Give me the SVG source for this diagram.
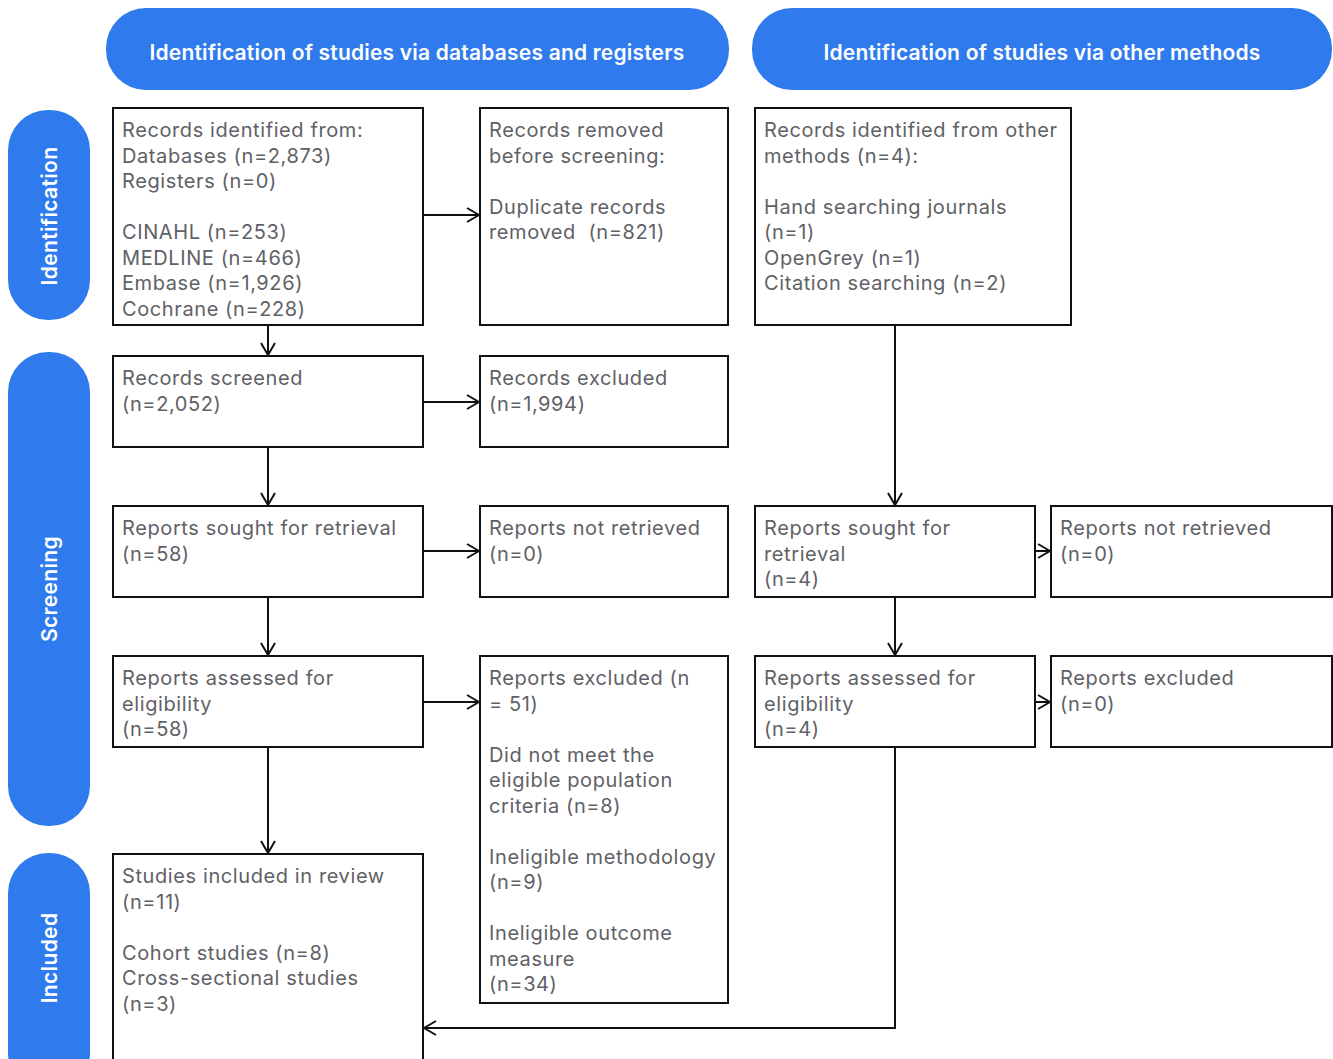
<svg xmlns="http://www.w3.org/2000/svg" width="1333" height="1059" viewBox="0 0 1333 1059">
<defs>
<style>
.hdr{fill:#2f7bee}
.hdrt{fill:#fff;font-family:Inter,"Liberation Sans",sans-serif;font-weight:600;font-size:21px;letter-spacing:0.2px;text-anchor:middle;dominant-baseline:central}
.side{letter-spacing:0.35px}
.box{fill:#fff;stroke:#111;stroke-width:2}
.t{fill:#5f6166;font-family:Inter,"Liberation Sans",sans-serif;font-size:20px;letter-spacing:0.6px}
.c{fill:none;stroke:#111;stroke-width:2}
</style>
<marker id="ah" viewBox="0 0 14 16" refX="13" refY="8" markerWidth="14" markerHeight="16" markerUnits="userSpaceOnUse" orient="auto">
<path d="M1 1 L13 8 L1 15" fill="none" stroke="#111" stroke-width="2"/>
</marker>
</defs>
<g id="header-db"><rect class="hdr" x="106" y="8" width="623" height="82" rx="40"/><text class="hdrt" x="417" y="52">Identification of studies via databases and registers</text></g>
<g id="header-other"><rect class="hdr" x="752" y="8" width="580" height="82" rx="40"/><text class="hdrt" x="1042" y="52">Identification of studies via other methods</text></g>
<g id="side-identification"><rect class="hdr" x="8" y="110" width="82" height="210" rx="40"/><text class="hdrt side" transform="translate(49 216) rotate(-90)">Identification</text></g>
<g id="side-screening"><rect class="hdr" x="8" y="352" width="82" height="474" rx="40"/><text class="hdrt side" transform="translate(49 589) rotate(-90)">Screening</text></g>
<g id="side-included"><rect class="hdr" x="8" y="853" width="82" height="240" rx="40"/><text class="hdrt side" transform="translate(49 958) rotate(-90)">Included</text></g>

<g id="connectors">
<line class="c" x1="268" y1="325" x2="268" y2="355" marker-end="url(#ah)"/>
<line class="c" x1="423" y1="215" x2="479" y2="215" marker-end="url(#ah)"/>
<line class="c" x1="423" y1="402" x2="479" y2="402" marker-end="url(#ah)"/>
<line class="c" x1="268" y1="447" x2="268" y2="505" marker-end="url(#ah)"/>
<line class="c" x1="423" y1="551" x2="479" y2="551" marker-end="url(#ah)"/>
<line class="c" x1="268" y1="597" x2="268" y2="655" marker-end="url(#ah)"/>
<line class="c" x1="423" y1="702" x2="479" y2="702" marker-end="url(#ah)"/>
<line class="c" x1="268" y1="747" x2="268" y2="853" marker-end="url(#ah)"/>
<line class="c" x1="895" y1="325" x2="895" y2="505" marker-end="url(#ah)"/>
<line class="c" x1="1035" y1="551" x2="1050" y2="551" marker-end="url(#ah)"/>
<line class="c" x1="895" y1="597" x2="895" y2="655" marker-end="url(#ah)"/>
<line class="c" x1="1035" y1="702" x2="1050" y2="702" marker-end="url(#ah)"/>
<polyline class="c" points="895,747 895,1028 424,1028" marker-end="url(#ah)"/>
</g>

<g id="records-identified"><rect class="box" x="113" y="108" width="310" height="217"/>
<text class="t" x="122" y="137"><tspan x="122">Records identified from:</tspan><tspan x="122" dy="25.5">Databases (n=2,873)</tspan><tspan x="122" dy="25.5">Registers (n=0)</tspan><tspan x="122" dy="51">CINAHL (n=253)</tspan><tspan x="122" dy="25.5">MEDLINE (n=466)</tspan><tspan x="122" dy="25.5">Embase (n=1,926)</tspan><tspan x="122" dy="25.5">Cochrane (n=228)</tspan></text></g>
<g id="records-removed"><rect class="box" x="480" y="108" width="248" height="217"/>
<text class="t" x="489" y="137" xml:space="preserve"><tspan x="489">Records removed</tspan><tspan x="489" dy="25.5">before screening:</tspan><tspan x="489" dy="51">Duplicate records</tspan><tspan x="489" dy="25.5">removed  (n=821)</tspan></text></g>
<g id="records-other"><rect class="box" x="755" y="108" width="316" height="217"/>
<text class="t" x="764" y="137"><tspan x="764">Records identified from other</tspan><tspan x="764" dy="25.5">methods (n=4):</tspan><tspan x="764" dy="51">Hand searching journals</tspan><tspan x="764" dy="25.5">(n=1)</tspan><tspan x="764" dy="25.5">OpenGrey (n=1)</tspan><tspan x="764" dy="25.5">Citation searching (n=2)</tspan></text></g>
<g id="records-screened"><rect class="box" x="113" y="356" width="310" height="91"/>
<text class="t" x="122" y="385"><tspan x="122">Records screened</tspan><tspan x="122" dy="25.5">(n=2,052)</tspan></text></g>
<g id="records-excluded"><rect class="box" x="480" y="356" width="248" height="91"/>
<text class="t" x="489" y="385"><tspan x="489">Records excluded</tspan><tspan x="489" dy="25.5">(n=1,994)</tspan></text></g>
<g id="reports-sought"><rect class="box" x="113" y="506" width="310" height="91"/>
<text class="t" x="122" y="535"><tspan x="122">Reports sought for retrieval</tspan><tspan x="122" dy="25.5">(n=58)</tspan></text></g>
<g id="reports-not-retrieved"><rect class="box" x="480" y="506" width="248" height="91"/>
<text class="t" x="489" y="535"><tspan x="489">Reports not retrieved</tspan><tspan x="489" dy="25.5">(n=0)</tspan></text></g>
<g id="other-reports-sought"><rect class="box" x="755" y="506" width="280" height="91"/>
<text class="t" x="764" y="535"><tspan x="764">Reports sought for</tspan><tspan x="764" dy="25.5">retrieval</tspan><tspan x="764" dy="25.5">(n=4)</tspan></text></g>
<g id="other-reports-not-retrieved"><rect class="box" x="1051" y="506" width="281" height="91"/>
<text class="t" x="1060" y="535"><tspan x="1060">Reports not retrieved</tspan><tspan x="1060" dy="25.5">(n=0)</tspan></text></g>
<g id="reports-assessed"><rect class="box" x="113" y="656" width="310" height="91"/>
<text class="t" x="122" y="685"><tspan x="122">Reports assessed for</tspan><tspan x="122" dy="25.5">eligibility</tspan><tspan x="122" dy="25.5">(n=58)</tspan></text></g>
<g id="reports-excluded"><rect class="box" x="480" y="656" width="248" height="347"/>
<text class="t" x="489" y="685"><tspan x="489">Reports excluded (n</tspan><tspan x="489" dy="25.5">= 51)</tspan><tspan x="489" dy="51">Did not meet the</tspan><tspan x="489" dy="25.5">eligible population</tspan><tspan x="489" dy="25.5">criteria (n=8)</tspan><tspan x="489" dy="51">Ineligible methodology</tspan><tspan x="489" dy="25.5">(n=9)</tspan><tspan x="489" dy="51">Ineligible outcome</tspan><tspan x="489" dy="25.5">measure</tspan><tspan x="489" dy="25.5">(n=34)</tspan></text></g>
<g id="other-reports-assessed"><rect class="box" x="755" y="656" width="280" height="91"/>
<text class="t" x="764" y="685"><tspan x="764">Reports assessed for</tspan><tspan x="764" dy="25.5">eligibility</tspan><tspan x="764" dy="25.5">(n=4)</tspan></text></g>
<g id="other-reports-excluded"><rect class="box" x="1051" y="656" width="281" height="91"/>
<text class="t" x="1060" y="685"><tspan x="1060">Reports excluded</tspan><tspan x="1060" dy="25.5">(n=0)</tspan></text></g>
<g id="studies-included"><rect class="box" x="113" y="854" width="310" height="220"/>
<text class="t" x="122" y="883"><tspan x="122">Studies included in review</tspan><tspan x="122" dy="25.5">(n=11)</tspan><tspan x="122" dy="51">Cohort studies (n=8)</tspan><tspan x="122" dy="25.5">Cross-sectional studies</tspan><tspan x="122" dy="25.5">(n=3)</tspan></text></g>
</svg>
